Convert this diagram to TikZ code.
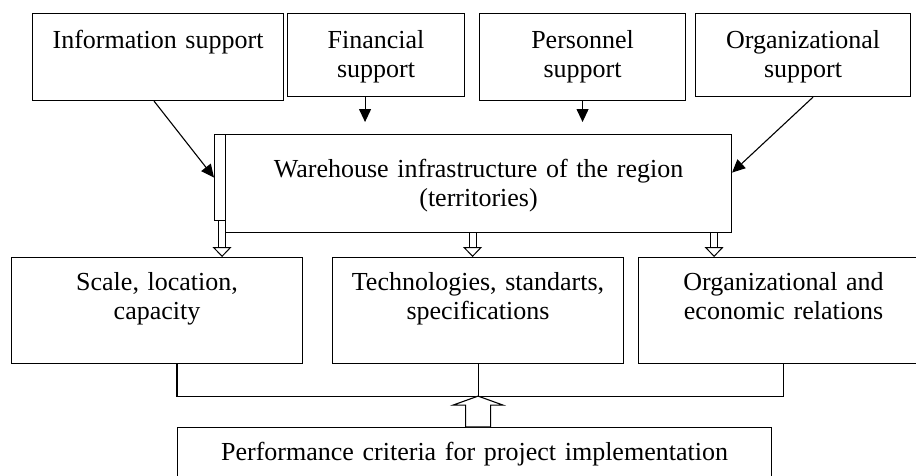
\documentclass[tikz,border=0pt]{standalone}
\usepackage{fontspec}
\setmainfont{Liberation Serif}
\usetikzlibrary{arrows.meta,calc}
\tikzset{
x=1pt, y=-1pt,
box/.style={draw, line width=1.1pt, anchor=north west, align=center, inner xsep=4pt, inner ysep=0pt,
            font=\fontsize{26pt}{29pt}\selectfont},
thin/.style={line width=1.1pt, -{Triangle[length=13pt,width=12pt]}},
hollow/.style={double, line width=1pt, double distance=6pt, shorten >=10pt},
hollowtip/.style={line width=1pt, -{Triangle[open, length=10pt, width=19pt]}},
bus/.style={line width=1.1pt}
}
\begin{document}
\begin{tikzpicture}
\useasboundingbox (0,0) rectangle (916,475);
\clip (0,0) rectangle (916,475);
\node[box, minimum width=251pt, text width=243pt, text height=35pt, text depth=52pt] (info) at (32,13) {Information support};
\node[box, minimum width=177pt, text width=169pt, text height=35pt, text depth=48pt] (fin)  at (287,13) {Financial\\support};
\node[box, minimum width=206pt, text width=198pt, text height=35pt, text depth=52pt] (pers) at (479,13) {Personnel\\support};
\node[box, minimum width=215pt, text width=207pt, text height=35pt, text depth=48pt] (org)  at (695,13) {Organizational\\support};
\node[draw, line width=1.1pt, anchor=north west, inner sep=0pt, minimum width=11pt, minimum height=86pt] (whside) at (214,134) {};
\node[box, minimum width=506pt, text width=498pt, text height=43pt, text depth=55pt] (wh) at (225,134) {Warehouse infrastructure of the region\\(territories)};
\node[box, minimum width=291pt, text width=283pt, text height=33pt, text depth=73pt] (scale) at (11,257) {Scale, location,\\capacity};
\node[box, minimum width=291pt, text width=283pt, text height=33pt, text depth=73pt] (tech) at (332,257) {Technologies, standarts,\\specifications};
\node[box, minimum width=290pt, text width=282pt, text height=33pt, text depth=73pt] (econ) at (638,257) {Organizational and\\economic relations};
\node[box, minimum width=594pt, text width=586pt, text height=33pt, text depth=67pt] (perf) at (177,427) {Performance criteria for project implementation};

\draw[thin] ([xshift=-4pt]info.south) -- (whside.west);
\draw[thin, shorten >=12pt] ([xshift=-11pt]fin.south) -- ([xshift=-11pt]fin.south |- wh.north);
\draw[thin, shorten >=12pt] (pers.south) -- (pers.south |- wh.north);
\draw[thin] ([xshift=10pt]org.south) -- ([yshift=11pt]wh.east);

\coordinate (t1) at ([xshift=2pt]whside.south |- scale.north);
\coordinate (t2) at ([xshift=-6pt]wh.south |- tech.north);
\coordinate (t3) at ([xshift=-18pt]wh.south east |- econ.north);
\draw[hollow] ([xshift=2pt]whside.south) -- (t1);
\draw[hollow] ([xshift=-6pt]wh.south) -- (t2);
\draw[hollow] ([xshift=-18pt]wh.south east) -- (t3);
\foreach \t in {t1,t2,t3}
  \draw[hollowtip] (\t) ++(0,-10) -- (\t);

\coordinate (jn) at ([yshift=-32pt]tech.south);
\draw[bus] (scale.south -| perf.north west) |- (econ.south |- jn) -- (econ.south);
\draw[bus] (tech.south) -- (jn);
\draw[bus, fill=white] (jn) -- ++(25,9) -- ++(-12.5,0) -- ($(jn |- perf.north)+(12.5,0)$)
  -- ($(jn |- perf.north)+(-12.5,0)$) -- ($(jn)+(-12.5,9)$) -- ++(-12.5,0) -- cycle;
\end{tikzpicture}
\end{document}
